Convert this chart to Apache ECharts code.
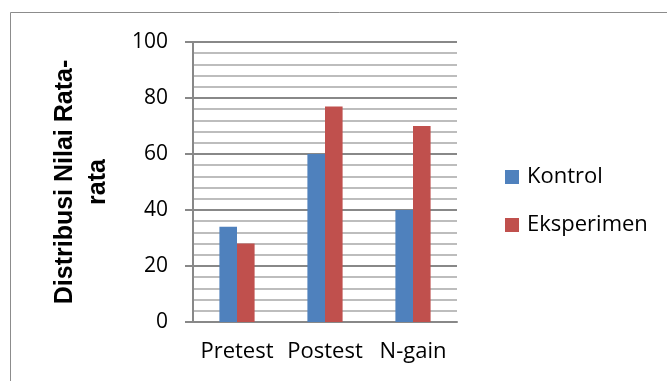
<!DOCTYPE html>
<html>
<head>
<meta charset="utf-8">
<script src="https://cdn.jsdelivr.net/npm/echarts@6/dist/echarts.min.js"></script>
<style>
  html, body { margin: 0; padding: 0; background: #fff; }
  #chart { width: 667px; height: 381px; }
</style>
</head>
<body>
<div id="chart"></div>
<script>
const categories = ['Pretest', 'Postest', 'N-gain'];
const kontrol = [34, 60, 40];
const eksperimen = [28, 77, 70];
const yTicks = [0, 20, 40, 60, 80, 100];

const chart = echarts.init(document.getElementById('chart'));
const font = '"Open Sans", sans-serif';
chart.setOption({
  animation: false,
  backgroundColor: '#fff',
  graphic: [{
    type: 'rect',
    shape: { x: 10.5, y: 12.5, width: 700, height: 400 },
    style: { fill: 'none', stroke: '#8c8c8c', lineWidth: 1 },
    silent: true,
    z: -1
  }],
  grid: { left: 193, right: 210, top: 42, bottom: 59 },
  legend: {
    orient: 'vertical',
    left: 500,
    top: 161,
    itemWidth: 14,
    itemHeight: 14,
    itemGap: 26,
    icon: 'rect',
    textStyle: { fontFamily: font, fontSize: 22, color: '#000', lineHeight: 22, padding: [0, 0, 0, 3] },
    data: ['Kontrol', 'Eksperimen']
  },
  xAxis: {
    type: 'category',
    data: categories,
    axisLine: { lineStyle: { color: '#888', width: 2 } },
    axisTick: { show: false },
    axisLabel: { fontFamily: font, fontSize: 22, color: '#000', margin: 19, interval: 0 }
  },
  yAxis: {
    type: 'value',
    min: yTicks[0],
    max: yTicks[yTicks.length - 1],
    interval: 20,
    name: 'Distribusi Nilai Rata-\nrata',
    nameLocation: 'middle',
    nameRotate: 90,
    nameGap: 78,
    nameTextStyle: { fontFamily: '"Liberation Sans", Arial, sans-serif', fontWeight: 'bold', fontSize: 25, color: '#000', lineHeight: 33 },
    axisLine: { show: true, lineStyle: { color: '#888', width: 2 } },
    axisTick: { show: true, length: 8, lineStyle: { color: '#888', width: 2 } },
    axisLabel: { fontFamily: font, fontSize: 21, color: '#000', margin: 25 },
    splitLine: { show: true, lineStyle: { color: '#888', width: 2 } },
    minorTick: { show: false, splitNumber: 5 },
    minorSplitLine: { show: true, lineStyle: { color: '#bdbdbd', width: 2 } }
  },
  series: [
    {
      name: 'Kontrol', type: 'bar', data: kontrol,
      barGap: '0%', barCategoryGap: '60%',
      itemStyle: { color: '#4F81BD' }
    },
    {
      name: 'Eksperimen', type: 'bar', data: eksperimen,
      barGap: '0%', barCategoryGap: '60%',
      itemStyle: { color: '#C0504D' }
    }
  ]
});
</script>
</body>
</html>
